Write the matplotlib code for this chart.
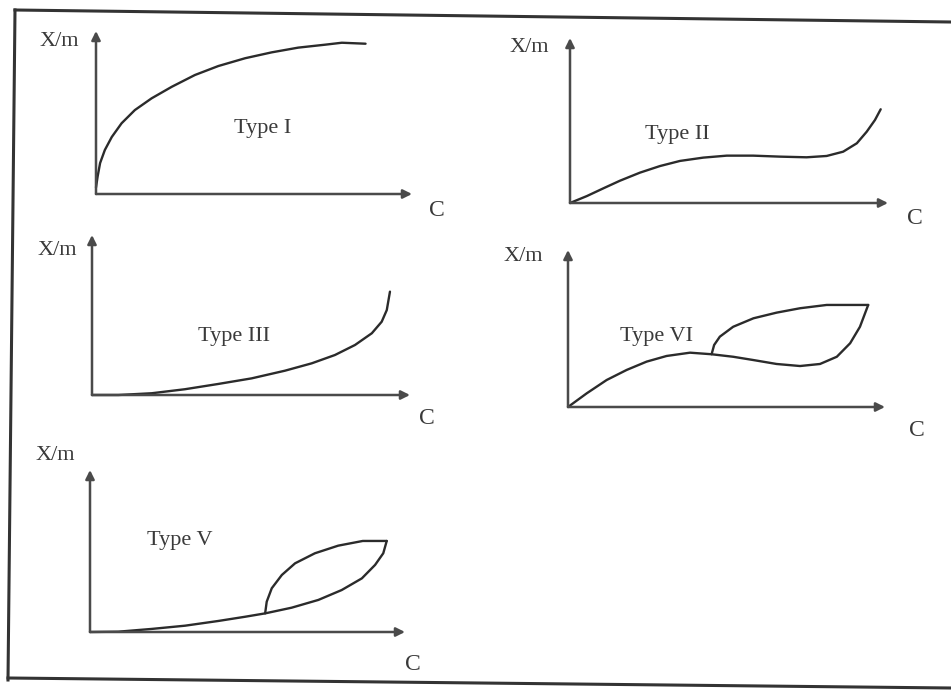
import matplotlib
matplotlib.use("Agg")
import matplotlib.pyplot as plt
from matplotlib.lines import Line2D

W, H = 951, 690
INK = '#2b2b2b'
AXIS = '#4a4a4a'
TXT = '#3a3a3a'

# isotherm curves, normalised: C along x (0..1), X/m along y (0..1)
type1_c = [0.0, 0.005, 0.013, 0.028, 0.05, 0.081, 0.123, 0.176, 0.24, 0.313,
           0.387, 0.472, 0.556, 0.64, 0.725, 0.778, 0.853]
type1_q = [0.04, 0.106, 0.19, 0.27, 0.35, 0.434, 0.515, 0.587, 0.658, 0.73,
           0.785, 0.833, 0.869, 0.898, 0.916, 0.928, 0.922]

type2_c = [0.0, 0.053, 0.105, 0.157, 0.22, 0.283, 0.346, 0.419, 0.493, 0.576,
           0.66, 0.744, 0.807, 0.859, 0.902, 0.933, 0.959, 0.977]
type2_q = [0.0, 0.042, 0.089, 0.135, 0.184, 0.224, 0.255, 0.275, 0.287, 0.287,
           0.281, 0.277, 0.285, 0.311, 0.362, 0.432, 0.503, 0.568]

type3_c = [0.0, 0.083, 0.188, 0.292, 0.397, 0.502, 0.607, 0.691, 0.764, 0.827,
           0.88, 0.911, 0.927, 0.937]
type3_q = [0.0, 0.0, 0.011, 0.036, 0.069, 0.104, 0.152, 0.198, 0.25, 0.3125,
           0.386, 0.458, 0.531, 0.646]

type6_c = [0.0, 0.059, 0.122, 0.185, 0.248, 0.311, 0.385, 0.453, 0.521, 0.585,
           0.658, 0.732, 0.795, 0.848, 0.89, 0.921, 0.947]
type6_q = [0.0, 0.087, 0.172, 0.236, 0.289, 0.325, 0.346, 0.336, 0.32, 0.299,
           0.274, 0.261, 0.274, 0.32, 0.406, 0.511, 0.65]
type6_loop_c = [0.453, 0.461, 0.479, 0.521, 0.585, 0.658, 0.732, 0.816, 0.9, 0.947]
type6_loop_q = [0.336, 0.395, 0.448, 0.511, 0.565, 0.601, 0.629, 0.65, 0.65, 0.65]

type5_c = [0.0, 0.09, 0.196, 0.302, 0.407, 0.492, 0.556, 0.64, 0.725, 0.799,
           0.863, 0.905, 0.931, 0.942]
type5_q = [0.0, 0.002, 0.019, 0.039, 0.068, 0.094, 0.115, 0.15, 0.198, 0.259,
           0.331, 0.414, 0.486, 0.562]
type5_loop_c = [0.556, 0.561, 0.577, 0.609, 0.651, 0.714, 0.788, 0.866, 0.942]
type5_loop_q = [0.115, 0.187, 0.27, 0.352, 0.424, 0.486, 0.533, 0.562, 0.562]

fig = plt.figure(figsize=(W / 100, H / 100), dpi=100)
fig.patch.set_facecolor('white')


def fx(px):
    return px / W


def fy(py):
    return 1 - py / H


def panel(x0, y0, x1, ytop, name, curves, name_xy, ylab_xy, c_xy):
    ax = fig.add_axes([fx(x0), fy(y0), (x1 - x0) / W, (y0 - ytop) / H])
    ax.set_xlim(0, 1)
    ax.set_ylim(0, 1)
    ax.axis('off')
    ap = dict(arrowstyle='-|>', mutation_scale=13, lw=1.8, color=AXIS,
              shrinkA=0, shrinkB=0)
    ax.annotate('', xy=(0, 1), xytext=(0, 0), arrowprops=ap, annotation_clip=False)
    ax.annotate('', xy=(1, 0), xytext=(0, 0), arrowprops=ap, annotation_clip=False)
    for c, q in curves:
        ax.plot(c, q, color=INK, lw=1.7, solid_capstyle='round',
                solid_joinstyle='round', clip_on=False)
    fs = dict(family='Liberation Serif', color=TXT)
    fig.text(fx(name_xy[0]), fy(name_xy[1]), name, ha='center', va='center', fontsize=16, **fs)
    fig.text(fx(ylab_xy[0]), fy(ylab_xy[1]), 'X/m', ha='center', va='center', fontsize=16, **fs)
    fig.text(fx(c_xy[0]), fy(c_xy[1]), 'C', ha='center', va='center', fontsize=17, **fs)


panel(96, 194, 412, 31, 'Type I', [(type1_c, type1_q)],
      (263, 128), (59, 42), (437, 211))
panel(570, 203, 888, 38, 'Type II', [(type2_c, type2_q)],
      (677, 135), (529, 48), (915, 219))
panel(92, 395, 410, 235, 'Type III', [(type3_c, type3_q)],
      (234, 337), (57, 250), (427, 418))
panel(568, 407, 885, 250, 'Type VI', [(type6_c, type6_q), (type6_loop_c, type6_loop_q)],
      (657, 337), (523, 257), (917, 430))
panel(90, 632, 405, 470, 'Type V', [(type5_c, type5_q), (type5_loop_c, type5_loop_q)],
      (180, 540), (55, 455), (413, 665))

# scanned page border
for xs, ys in [((15, 951), (10, 22)), ((15, 8), (10, 680)), ((8, 951), (678, 688))]:
    fig.add_artist(Line2D([fx(x) for x in xs], [fy(y) for y in ys],
                          color='#333333', lw=2.2))

fig.savefig('out.png', dpi=100, facecolor='white')
